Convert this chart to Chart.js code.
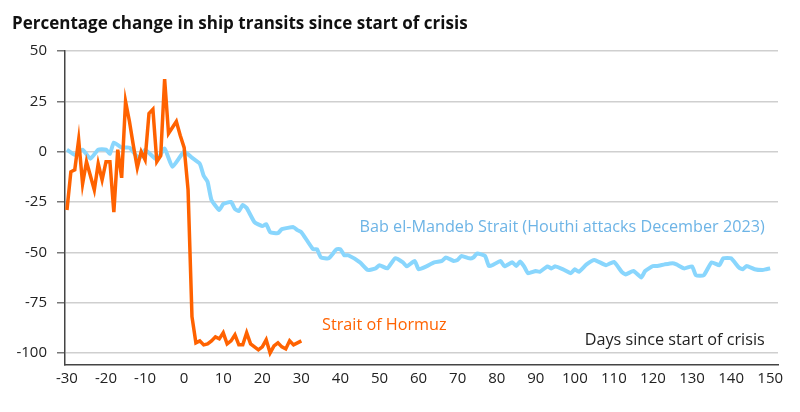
<!DOCTYPE html>
<html>
<head>
<meta charset="utf-8">
<script src="https://cdn.jsdelivr.net/npm/chart.js@4.4.1/dist/chart.umd.min.js"></script>
<style>
  html, body { margin: 0; padding: 0; background: #fff; }
  #wrap { width: 800px; height: 412px; }
</style>
</head>
<body>
<div id="wrap"><canvas id="shipChart"></canvas></div>
<script>
// Strait of Hormuz, daily, days -30 .. 30
const hormuzDays = [];
for (let d = -30; d <= 30; d++) hormuzDays.push(d);
const hormuzValues = [
  -29, -10, -9, 6, -16, -5, -12, -19, -6, -14,
  -5, -5, -30, 1, -13, 25, 15, 3, -8, 0,
  -4, 19, 21, -5, -2, 36, 9, 12, 15, 8,
  2, -19, -82, -95, -94, -96, -95.5, -94, -92, -93,
  -90, -95.5, -94, -91, -96, -96, -90, -95.5, -97, -98.5,
  -97, -93.5, -100, -96.5, -95, -97, -98, -94, -96, -95,
  -94
];

// Bab el-Mandeb Strait (read at the turning points of the line)
const babDays = [
  -30, -28, -26, -24, -22, -20, -19, -18, -16, -14,
  -12, -11, -10, -7, -5, -3, 0, 2, 4, 5,
  6, 7, 9, 10, 12, 13, 14, 15, 16, 18,
  20, 21, 22, 24, 25, 28, 29, 30, 33, 34,
  35, 37, 39, 40, 41, 42, 45, 47, 49, 50,
  52, 54, 56, 57, 59, 60, 62, 64, 66, 67,
  69, 70, 71, 73, 74, 75, 77, 78, 79, 81,
  82, 84, 85, 86, 87, 88, 90, 91, 93, 94,
  95, 97, 99, 100, 101, 103, 105, 108, 110, 112,
  113, 115, 117, 118, 120, 121, 123, 125, 126, 128,
  130, 131, 133, 135, 137, 138, 140, 142, 143, 144,
  146, 148, 149, 150
];
const babValues = [
  1, -1.5, 1, -3.5, 1, 1, -1, 4.5, 2, 2,
  -2.5, -2.5, 1, -4, 1.5, -7.5, 0, -3, -6, -12,
  -15, -24, -29, -26, -25, -28.5, -29.5, -26.5, -28, -35,
  -37, -36, -40, -40.5, -38.5, -37.5, -39, -40, -48.5, -48.5,
  -52.5, -53, -48.5, -48.5, -51.5, -51.5, -55, -58.8, -58, -56.4,
  -58, -53, -55, -57, -54.3, -58.4, -57, -55, -54.3, -52.6,
  -54.3, -53.8, -51.8, -53, -52.6, -50.6, -51.8, -56.8, -56.3, -54.3,
  -57, -55, -56.8, -54.6, -57, -60.4, -59.3, -59.7, -57, -58,
  -57, -58.5, -60.4, -58.4, -59.7, -56, -53.8, -56.4, -54.8, -59.7,
  -61, -59.3, -62.5, -59.3, -56.8, -56.8, -56, -55.4, -56, -58,
  -57, -61.4, -61.4, -55, -56.4, -53, -53, -57.6, -58.4, -56.8,
  -58.4, -58.8, -58.4, -58
];

const xTicks = [-30, -20, -10, 0, 10, 20, 30, 40, 50, 60, 70, 80, 90, 100, 110, 120, 130, 140, 150];
const yTicks = [50, 25, 0, -25, -50, -75, -100];

const titleText = "Percentage change in ship transits since start of crisis";
const babLabel = "Bab el-Mandeb Strait (Houthi attacks December 2023)";
const hormuzLabel = "Strait of Hormuz";
const xAxisLabel = "Days since start of crisis";

const ORANGE = "#ff6200";
const BLUE = "#89d6fd";
const BLUE_TEXT = "#6db4e6";
const FONT = "'Open Sans', 'Noto Sans', sans-serif";

const textPlugin = {
  id: "texts",
  afterDraw(chart) {
    const ctx = chart.ctx;
    const x = chart.scales.x, y = chart.scales.y;
    ctx.save();
    ctx.textBaseline = "alphabetic";
    ctx.font = "bold 17px " + FONT;
    ctx.fillStyle = "#111";
    ctx.textAlign = "left";
    ctx.fillText(titleText, 12, 29);

    ctx.font = "16.2px " + FONT;
    ctx.textBaseline = "middle";
    ctx.fillStyle = BLUE_TEXT;
    ctx.textAlign = "right";
    ctx.fillText(babLabel, x.getPixelForValue(148.6), y.getPixelForValue(-37.8));
    ctx.fillStyle = "#222";
    ctx.fillText(xAxisLabel, x.getPixelForValue(148.6), y.getPixelForValue(-93.8));
    ctx.fillStyle = ORANGE;
    ctx.textAlign = "left";
    ctx.fillText(hormuzLabel, x.getPixelForValue(35.3), y.getPixelForValue(-86.3));
    ctx.restore();
  }
};

new Chart(document.getElementById("shipChart"), {
  type: "line",
  data: {
    datasets: [
      {
        label: "Strait of Hormuz",
        data: hormuzDays.map((d, i) => ({ x: d, y: hormuzValues[i] })),
        borderColor: ORANGE,
        borderWidth: 3.5,
        pointRadius: 0,
        tension: 0,
      },
      {
        label: "Bab el-Mandeb Strait",
        data: babDays.map((d, i) => ({ x: d, y: babValues[i] })),
        borderColor: BLUE,
        borderWidth: 4,
        pointRadius: 0,
        tension: 0.15,
      },
    ],
  },
  options: {
    responsive: true,
    maintainAspectRatio: false,
    animation: false,
    events: [],
    layout: { padding: { left: 0, right: 22, top: 51, bottom: 0 } },
    plugins: { legend: { display: false }, tooltip: { enabled: false } },
    scales: {
      x: {
        type: "linear",
        min: -30.5,
        max: 152,
        afterBuildTicks: (s) => { s.ticks = xTicks.map((v) => ({ value: v })); },
        afterFit: (s) => { s.height = 47; },
        grid: { display: false, drawTicks: false },
        border: { display: true, color: "#444", width: 1.5 },
        ticks: { color: "#222", font: { family: FONT, size: 15 }, padding: 5, maxRotation: 0, autoSkip: false },
      },
      y: {
        min: -106,
        max: 50,
        afterBuildTicks: (s) => { s.ticks = yTicks.map((v) => ({ value: v })); },
        afterFit: (s) => { s.width = 65; },
        grid: { color: "#cfcfcf", lineWidth: 1.5, tickLength: 8, tickColor: "#777" },
        border: { display: true, color: "#444", width: 1.5 },
        ticks: { color: "#222", font: { family: FONT, size: 15 }, padding: 10 },
      },
    },
  },
  plugins: [textPlugin],
});
</script>
</body>
</html>
